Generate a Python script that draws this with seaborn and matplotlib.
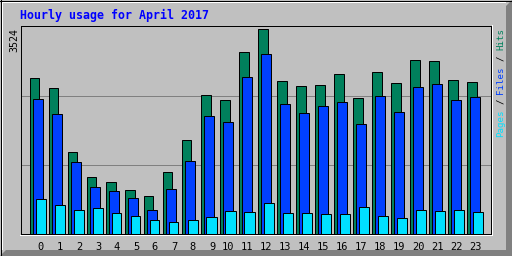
import numpy as np
import pandas as pd
import matplotlib
matplotlib.use("Agg")
import matplotlib.pyplot as plt
from matplotlib.patches import Polygon
from matplotlib.lines import Line2D
import seaborn as sns

# ---- data ----
hours = list(range(24))
hits = [2689, 2516, 1411, 979, 893, 755, 651, 1065, 1618, 2395, 2309, 3138,
        3524, 2637, 2551, 2568, 2758, 2344, 2793, 2603, 3000, 2983, 2654, 2620]
files = [2326, 2067, 1238, 806, 737, 616, 409, 772, 1255, 2032, 1929, 2706,
         3103, 2240, 2084, 2205, 2274, 1894, 2378, 2102, 2533, 2585, 2309, 2361]
pages = [599, 495, 409, 444, 357, 305, 236, 202, 236, 288, 392, 375,
         530, 357, 357, 340, 340, 461, 305, 271, 409, 392, 409, 375]
title = "Hourly usage for April 2017"
max_label = "3524"

C_HITS = "#00805C"
C_FILES = "#0040FF"
C_PAGES = "#00E0FF"
BG = "#C0C0C0"

W, H = 512, 256
fig = plt.figure(figsize=(W / 100, H / 100), dpi=100, facecolor=BG)

# axes placement (pixel -> figure fraction)
ax = fig.add_axes([20.5 / W, (H - 233.5) / H, 470 / W, 208 / H])
ax.set_facecolor(BG)

df = pd.DataFrame({"hour": hours, "hits": hits, "files": files, "pages": pages})
step = 19.0
bw = 10 / step
lw = 0.72
for col, color, off in [("hits", C_HITS, -3), ("files", C_FILES, 0), ("pages", C_PAGES, 3)]:
    sns.barplot(x=df["hour"] + off / step, y=df[col], native_scale=True,
                width=bw, color=color, saturation=1, edgecolor="black",
                linewidth=lw, ax=ax, zorder=3, errorbar=None)

T = max(hits) * 208 / 204
ax.set_ylim(0, T)
ax.set_xlim((20.5 - 37.5) / step, (490.5 - 37.5) / step)
for fr in (0.327, 0.663):
    ax.axhline(T * fr, color="#808080", lw=lw, zorder=1)

ax.set_yticks([])
ax.set_ylabel("")
ax.set_xlabel("")
tick_pos = [h + (3.5 if h < 10 else 0.7) / step for h in hours]
ax.set_xticks(tick_pos)
ax.set_xticklabels([str(h) for h in hours], fontfamily="DejaVu Sans Mono",
                   fontsize=7.5, color="black")
ax.tick_params(axis="x", length=0, pad=6.0)
for s in ax.spines.values():
    s.set_color("black")
    s.set_linewidth(lw)

# white outer edge of plot (sunken look)
fig.add_artist(Line2D([491.5 / W, 491.5 / W], [(H - 234.5) / H, (H - 25) / H],
                      transform=fig.transFigure, color="white", lw=lw))
fig.add_artist(Line2D([20 / W, 492 / W], [(H - 234.5) / H, (H - 234.5) / H],
                      transform=fig.transFigure, color="white", lw=lw))

# outer frame
def px(pts):
    return [(x / W, y / H) for x, y in pts]

fig.add_artist(Polygon(px([(0, 0), (512, 0), (512, 6), (6, 6)]),
                       closed=True, transform=fig.transFigure,
                       facecolor="#808080", edgecolor="none"))
fig.add_artist(Polygon(px([(512, 0), (512, 256), (506, 250), (506, 0)]),
                       closed=True, transform=fig.transFigure,
                       facecolor="#808080", edgecolor="none"))
fig.add_artist(Line2D([0, 1], [(H - 0.5) / H] * 2, transform=fig.transFigure, color="black", lw=lw))
fig.add_artist(Line2D([0.5 / W] * 2, [0, 1], transform=fig.transFigure, color="black", lw=lw))
fig.add_artist(Line2D([1.5 / W, 505 / W], [(H - 1.5) / H] * 2, transform=fig.transFigure, color="white", lw=lw))
fig.add_artist(Line2D([1.5 / W] * 2, [7 / H, (H - 1.5) / H], transform=fig.transFigure, color="white", lw=lw))

# title
fig.text(19.5 / W, (H - 15) / H, title, color="#0000FF", fontfamily="DejaVu Sans Mono",
         fontweight="bold", fontsize=8.4, ha="left", va="center")
# max label
fig.text(14.5 / W, (H - 27.5) / H, max_label, color="black", fontfamily="DejaVu Sans Mono",
         fontsize=7.2, rotation=90, ha="center", va="top")

# right legend text (reads bottom to top)
adv = 5.4
y0 = 136.7
pieces = [("Pages", 0, C_PAGES), ("/", 6, "black"), ("Files", 8, C_FILES),
          ("/", 14, "black"), ("Hits", 16, C_HITS)]
for txt, i, c in pieces:
    fig.text(501 / W, (H - (y0 - i * adv)) / H, txt, color=c, fontfamily="DejaVu Sans Mono",
             fontsize=6.6, rotation=90, ha="center", va="bottom")

fig.savefig("out.png", dpi=100, facecolor=BG)
